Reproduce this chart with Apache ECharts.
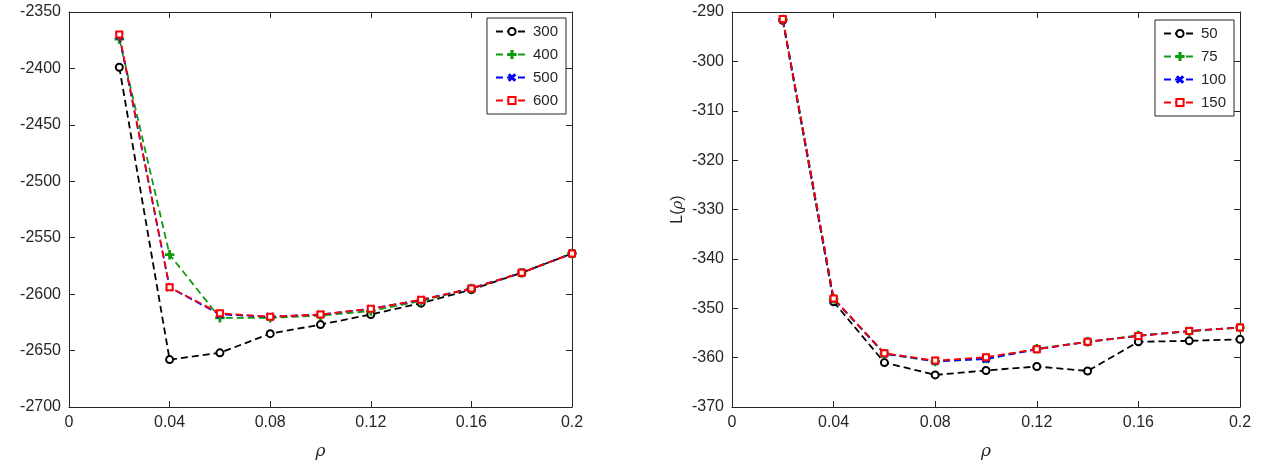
<!DOCTYPE html>
<html>
<head>
<meta charset="utf-8">
<script src="https://cdn.jsdelivr.net/npm/echarts@6/dist/echarts.min.js"></script>
<style>
  html, body { margin: 0; padding: 0; background: #fff; }
  #chart { width: 1264px; height: 461px; }
</style>
</head>
<body>
<div id="chart"></div>
<script>
const rho = [0.02, 0.04, 0.06, 0.08, 0.10, 0.12, 0.14, 0.16, 0.18, 0.20]

// left panel
const leftNames = ['300', '400', '500', '600']
const L300 = [-2399, -2658, -2652, -2635, -2627, -2618, -2608, -2596, -2581, -2564]
const L400 = [-2374, -2565, -2621, -2621, -2619, -2615, -2606, -2595, -2581, -2564]
const L500 = [-2371, -2594, -2618, -2620, -2618, -2613, -2605, -2595, -2581, -2564]
const L600 = [-2370, -2594, -2617, -2620, -2618, -2613, -2605, -2595, -2581, -2564]

// right panel
const rightNames = ['50', '75', '100', '150']
const L50 = [-291.7, -348.7, -361.0, -363.5, -362.6, -361.8, -362.7, -356.8, -356.6, -356.3]
const L75 = [-291.5, -348.1, -359.2, -360.8, -360.2, -358.2, -356.8, -355.5, -354.7, -353.9]
const L100 = [-291.5, -348.1, -359.2, -360.7, -360.3, -358.3, -356.8, -355.6, -354.6, -353.9]
const L150 = [-291.4, -348.0, -359.1, -360.6, -359.9, -358.3, -356.8, -355.6, -354.6, -353.9]

const colors = ['#000000', '#109c10', '#0000ff', '#ff0000']
const plus = 'path://M4.2,0h1.6v10h-1.6zM0,4.2h10v1.6h-10z'
const symbols = ['emptyCircle', plus, plus, 'emptyRect']
const rotations = [0, 0, 45, 0]
const font = 'Liberation Sans, Helvetica, Arial, sans-serif'

const chart = echarts.init(document.getElementById('chart'))

const axisLine = { show: true, onZero: false, lineStyle: { color: '#262626', width: 1 } }
const tick = () => ({ show: true, inside: true, length: 6, lineStyle: { color: '#262626', width: 1 } })
const label = { color: '#262626', fontSize: 16, fontFamily: font, formatter: v => String(v) }

const makeX = (gridIndex, position, showLabel) => ({
  type: 'value', gridIndex, position, min: 0, max: 0.2, interval: 0.04,
  axisLine, axisTick: tick(), splitLine: { show: false },
  axisLabel: Object.assign({ show: showLabel, margin: 8 }, label),
  name: showLabel ? 'ρ' : '', nameLocation: 'middle', nameGap: 36,
  nameTextStyle: { fontSize: 17, fontStyle: 'italic', fontFamily: 'DejaVu Serif, serif', color: '#262626' }
})

const makeY = (gridIndex, position, showLabel, min, max, interval, name) => ({
  type: 'value', gridIndex, position, min, max, interval,
  axisLine, axisTick: tick(), splitLine: { show: false },
  axisLabel: Object.assign({ show: showLabel, margin: 8 }, label),
  name: name || '', nameLocation: 'middle', nameGap: 46, nameRotate: 90,
  nameTextStyle: {
    fontSize: 16, fontFamily: font, color: '#262626',
    rich: { i: { fontStyle: 'italic', fontFamily: 'DejaVu Serif, serif', fontSize: 15, color: '#262626' } }
  }
})

const makeSeries = (names, lists, axisIdx) => names.map((n, k) => ({
  name: n, type: 'line', xAxisIndex: axisIdx, yAxisIndex: axisIdx,
  data: rho.map((r, i) => [r, lists[k][i]]),
  symbol: symbols[k], symbolRotate: rotations[k], symbolSize: k === 0 ? 7 : (k === 3 ? 6 : 8),
  showAllSymbol: true,
  lineStyle: { color: colors[k], width: 1.8, type: [7, 4] },
  itemStyle: { color: colors[k], borderColor: colors[k], borderWidth: 1.5 },
  z: 2 + k, animation: false
}))

const makeLegend = (names, right, top) => ({
  data: names, orient: 'vertical', right, top,
  itemWidth: 32, itemHeight: 9, itemGap: 8,
  padding: [6, 8, 6, 8],
  borderColor: '#262626', borderWidth: 1, backgroundColor: '#fff',
  textStyle: { fontSize: 15, fontFamily: font, color: '#262626' }
})

chart.setOption({
  animation: false,
  grid: [
    { left: 69, right: 692, top: 12, bottom: 54, outerBoundsMode: 'none' },
    { left: 732, right: 24, top: 12, bottom: 54, outerBoundsMode: 'none' }
  ],
  xAxis: [
    makeX(0, 'bottom', true),
    makeX(1, 'bottom', true),
    makeX(0, 'top', false),
    makeX(1, 'top', false)
  ],
  yAxis: [
    makeY(0, 'left', true, -2700, -2350, 50),
    makeY(1, 'left', true, -370, -290, 10, 'L({i|ρ})'),
    makeY(0, 'right', false, -2700, -2350, 50),
    makeY(1, 'right', false, -370, -290, 10)
  ],
  legend: [
    makeLegend(leftNames, 698, 18),
    makeLegend(rightNames, 30, 20)
  ],
  series: [
    ...makeSeries(leftNames, [L300, L400, L500, L600], 0),
    ...makeSeries(rightNames, [L50, L75, L100, L150], 1)
  ]
})
</script>
</body>
</html>
